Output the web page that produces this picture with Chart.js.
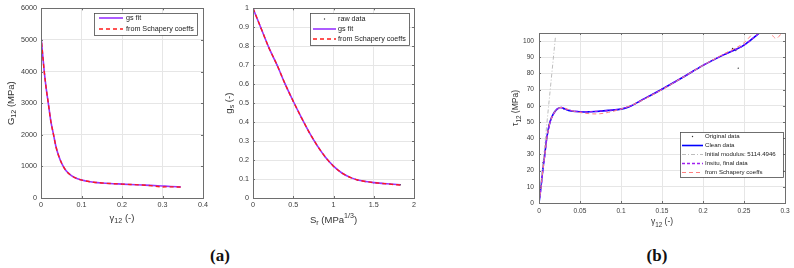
<!DOCTYPE html>
<html>
<head>
<meta charset="utf-8">
<script src="https://cdn.jsdelivr.net/npm/chart.js@4.4.0/dist/chart.umd.min.js"></script>
<style>
  body { margin: 0; background: #fff; width: 794px; height: 268px; position: relative; overflow: hidden; }
  canvas { position: absolute; top: 0; }
  .tag { position: absolute; top: 246px; width: 40px; margin-left: -20px; text-align: center;
         font-family: 'Liberation Serif', 'DejaVu Serif', serif; font-weight: bold; font-size: 17px; color: #111; }
</style>
</head>
<body>
<canvas id="c1" width="215" height="230" style="left:0px"></canvas>
<canvas id="c2" width="210" height="230" style="left:215px"></canvas>
<canvas id="c3" width="314" height="235" style="left:480px"></canvas>
<div class="tag" style="left:220px">(a)</div>
<div class="tag" style="left:657px">(b)</div>
<script>
// (a) left: shear modulus vs shear strain
var gammaG = [0, 0.004, 0.008, 0.013, 0.018, 0.024, 0.031, 0.037, 0.044, 0.052, 0.062, 0.075, 0.09, 0.11, 0.13, 0.15, 0.17, 0.2, 0.22, 0.25, 0.27, 0.3, 0.32, 0.345];
var G12Fit = [5130, 4550, 4000, 3450, 3000, 2450, 2000, 1620, 1320, 1070, 860, 710, 610, 540, 500, 475, 458, 440, 428, 410, 398, 378, 365, 352];
var G12Schapery = [5130, 4550, 4000, 3450, 3000, 2450, 2000, 1620, 1320, 1070, 860, 710, 610, 540, 500, 475, 458, 440, 428, 410, 392, 350, 352, 345];
var g1XTicks = [0, 0.1, 0.2, 0.3, 0.4];
var g1YTicks = [0, 1000, 2000, 3000, 4000, 5000, 6000];

// (a) right: nonlinear factor gs vs Sr
var SrVals = [0, 0.1, 0.2, 0.3, 0.4, 0.5, 0.6, 0.7, 0.8, 0.9, 1.0, 1.1, 1.2, 1.3, 1.4, 1.5, 1.6, 1.7, 1.83];
var gsRaw = [1, 0.895, 0.79, 0.7, 0.6, 0.51, 0.425, 0.345, 0.275, 0.215, 0.168, 0.133, 0.11, 0.095, 0.087, 0.081, 0.077, 0.074, 0.07];
var gsFit = [1, 0.895, 0.79, 0.7, 0.6, 0.51, 0.425, 0.345, 0.275, 0.215, 0.168, 0.133, 0.11, 0.095, 0.087, 0.081, 0.077, 0.074, 0.07];
var gsSchapery = [1, 0.895, 0.79, 0.7, 0.6, 0.51, 0.425, 0.345, 0.275, 0.215, 0.168, 0.133, 0.11, 0.095, 0.087, 0.081, 0.077, 0.073, 0.068];
var g2XTicks = [0, 0.5, 1, 1.5, 2];
var g2YTicks = [0, 0.1, 0.2, 0.3, 0.4, 0.5, 0.6, 0.7, 0.8, 0.9, 1];

// (b): shear stress vs shear strain
var gammaClean = [0, 0.0024, 0.0045, 0.007, 0.0094, 0.0134, 0.0175, 0.022, 0.027, 0.031, 0.036, 0.045, 0.055, 0.07, 0.085, 0.1, 0.11, 0.125, 0.15, 0.175, 0.2, 0.225, 0.25, 0.27];
var tauClean = [0, 10, 20, 30, 40, 50, 55, 58, 59, 58.2, 57.2, 56.5, 56.2, 56.5, 57.2, 58, 59.5, 63.5, 70.3, 77.5, 85, 91.5, 97.5, 105.5];
var gammaInsitu = [0, 0.0026, 0.0047, 0.0072, 0.0096, 0.0136, 0.0178, 0.0225, 0.027, 0.032, 0.04, 0.055, 0.07, 0.085, 0.1, 0.112, 0.125, 0.15, 0.175, 0.2, 0.225, 0.25, 0.27];
var tauInsitu = [0, 10, 20, 30, 40, 50, 55, 58, 59, 58, 57, 56.3, 56.6, 57.2, 58.2, 60, 63.5, 70.3, 77.5, 85, 91.5, 97.5, 105.5];
var gammaSchapery = [0, 0.0025, 0.0046, 0.0071, 0.0095, 0.0135, 0.0176, 0.022, 0.027, 0.032, 0.04, 0.055, 0.07, 0.085, 0.1, 0.12, 0.15, 0.175, 0.2, 0.225, 0.25, 0.262, 0.275, 0.289, 0.3];
var tauSchapery = [0, 10, 20, 30, 40, 50, 55, 58, 59, 58.5, 57, 55.5, 55, 56, 58, 62, 70, 77.5, 85, 92, 99, 105.2, 110, 101.7, 108];
var gammaOrig = [0.005, 0.012, 0.03, 0.06, 0.1, 0.15, 0.2, 0.236, 0.238, 0.24, 0.243];
var tauOrig = [25, 48, 58.2, 56.3, 58, 70.3, 85, 95.5, 95, 94.2, 83.3];
var initialModulus = '5114.4946';
var gammaModulus = [0, 0.02];
var tauModulus = [0, 102.3];
var g3XTicks = [0, 0.05, 0.1, 0.15, 0.2, 0.25, 0.3];
var g3YTicks = [0, 10, 20, 30, 40, 50, 60, 70, 80, 90, 100];

var FONT = "'Liberation Sans', Arial, sans-serif";
var gridColor = '#e6e6e6';
var axisColor = '#6e6e6e';
var tickColor = '#3a3a3a';

function pts(xs, ys) {
    return xs.map(function (x, i) { return { x: x, y: ys[i] }; });
}

function makeScales(o) {
    return {
        x: {
            type: 'linear', min: o.xMin, max: o.xMax,
            afterBuildTicks: function (s) { s.ticks = o.xTicks.map(function (v) { return { value: v }; }); },
            afterFit: function (s) { s.height = o.xH; },
            grid: { color: gridColor, drawTicks: false },
            border: { color: axisColor },
            ticks: { font: { family: FONT, size: o.fs }, color: tickColor, padding: o.xPad, maxRotation: 0, autoSkip: false,
                callback: function (v) { return String(v); } }
        },
        y: {
            type: 'linear', min: o.yMin, max: o.yMax,
            afterBuildTicks: function (s) { s.ticks = o.yTicks.map(function (v) { return { value: v }; }); },
            afterFit: function (s) { s.width = o.yW; },
            grid: { color: gridColor, drawTicks: false },
            border: { color: axisColor },
            ticks: { font: { family: FONT, size: o.fs }, color: tickColor, padding: o.yPad, autoSkip: false,
                callback: function (v) { return String(v); } }
        }
    };
}

// text with sub/superscripts: parts = [[text, 0 normal | 1 sub | 2 sup], ...]
function drawRich(ctx, parts, cx, cy, size, rotate) {
    ctx.save();
    ctx.translate(cx, cy);
    if (rotate) ctx.rotate(-Math.PI / 2);
    ctx.fillStyle = '#333';
    ctx.textBaseline = 'middle';
    ctx.textAlign = 'left';
    var total = 0;
    parts.forEach(function (p) {
        ctx.font = (p[1] ? size * 0.75 : size) + 'px ' + FONT;
        total += ctx.measureText(p[0]).width;
    });
    var x = -total / 2;
    parts.forEach(function (p) {
        ctx.font = (p[1] ? size * 0.75 : size) + 'px ' + FONT;
        var dy = p[1] === 1 ? size * 0.35 : (p[1] === 2 ? -size * 0.4 : 0);
        ctx.fillText(p[0], x, dy);
        x += ctx.measureText(p[0]).width;
    });
    ctx.restore();
}

function decoPlugin(cfg) {
    return {
        id: 'deco',
        afterDraw: function (chart) {
            var ctx = chart.ctx, a = chart.chartArea;
            ctx.save();
            // box + inward ticks
            ctx.strokeStyle = axisColor;
            ctx.lineWidth = 1;
            ctx.strokeRect(Math.round(a.left) + 0.5, Math.round(a.top) + 0.5, Math.round(a.right - a.left), Math.round(a.bottom - a.top));
            ctx.beginPath();
            chart.scales.x.ticks.forEach(function (t) {
                var px = Math.round(chart.scales.x.getPixelForValue(t.value)) + 0.5;
                ctx.moveTo(px, a.bottom); ctx.lineTo(px, a.bottom - 2);
                ctx.moveTo(px, a.top); ctx.lineTo(px, a.top + 2);
            });
            chart.scales.y.ticks.forEach(function (t) {
                var py = Math.round(chart.scales.y.getPixelForValue(t.value)) + 0.5;
                ctx.moveTo(a.left, py); ctx.lineTo(a.left + 2, py);
                ctx.moveTo(a.right, py); ctx.lineTo(a.right - 2, py);
            });
            ctx.stroke();

            // legend box
            var L = cfg.legend;
            ctx.fillStyle = '#fff';
            ctx.fillRect(L.x, L.y, L.w, L.h);
            ctx.strokeStyle = '#4d4d4d';
            ctx.lineWidth = 0.8;
            ctx.strokeRect(L.x + 0.5, L.y + 0.5, L.w, L.h);
            chart.data.datasets.forEach(function (ds, i) {
                var cy = L.y + L.first + i * L.row;
                var x0 = L.x + L.s0, x1 = x0 + L.sw;
                if (ds.showLine === false) {
                    ctx.fillStyle = '#333';
                    ctx.beginPath();
                    ctx.arc((x0 + x1) / 2, cy, 0.7, 0, Math.PI * 2);
                    ctx.fill();
                } else {
                    ctx.strokeStyle = ds.borderColor;
                    ctx.lineWidth = ds.borderWidth;
                    ctx.setLineDash(ds.borderDash || []);
                    ctx.beginPath();
                    ctx.moveTo(x0, cy); ctx.lineTo(x1, cy);
                    ctx.stroke();
                    ctx.setLineDash([]);
                }
                ctx.fillStyle = '#222';
                ctx.font = L.size + 'px ' + FONT;
                ctx.textBaseline = 'middle';
                ctx.textAlign = 'left';
                ctx.fillText(ds.label, L.x + L.tx, cy);
            });
            ctx.restore();

            // axis titles
            drawRich(ctx, cfg.xTitle, (a.left + a.right) / 2, cfg.xTitleY, cfg.titleSize, false);
            drawRich(ctx, cfg.yTitle, cfg.yTitleX, (a.top + a.bottom) / 2 + (cfg.yTitleDy || 0), cfg.titleSize, true);
        }
    };
}

function lineSet(label, xs, ys, color, width, dash, order) {
    return { label: label, data: pts(xs, ys), borderColor: color, borderWidth: width, borderDash: dash,
        pointRadius: 0, tension: 0, cubicInterpolationMode: 'monotone', fill: false, order: order };
}

function dotSet(label, xs, ys, order) {
    return { label: label, data: pts(xs, ys), showLine: false, pointRadius: 0.7, pointBorderWidth: 0,
        pointBackgroundColor: '#333', borderColor: '#333', borderWidth: 0, order: order };
}

var common = { responsive: false, animation: false, parsing: true,
    plugins: { legend: { display: false }, tooltip: { enabled: false } } };

new Chart(document.getElementById('c1'), {
    type: 'line',
    data: { datasets: [
        lineSet('gs fit', gammaG, G12Fit, '#9933ff', 1.6, [], 1),
        lineSet('from Schapery coeffs', gammaG, G12Schapery, '#ff1a1a', 1.4, [4, 3], 0)
    ] },
    options: Object.assign({}, common, {
        layout: { padding: { left: 0, top: 7, right: 12, bottom: 0 } },
        scales: makeScales({ xMin: 0, xMax: 0.4, xTicks: g1XTicks, yMin: 0, yMax: 6000, yTicks: g1YTicks,
            xH: 32, yW: 41, fs: 7.2, xPad: 3, yPad: 4 })
    }),
    plugins: [decoPlugin({
        legend: { x: 94, y: 13, w: 103, h: 22, first: 5, row: 11, s0: 5, sw: 24, tx: 32, size: 7.2 },
        xTitle: [['γ', 0], ['12', 1], [' (-)', 0]], xTitleY: 218,
        yTitle: [['G', 0], ['12', 1], [' (MPa)', 0]], yTitleX: 11,
        titleSize: 9.5
    })]
});

new Chart(document.getElementById('c2'), {
    type: 'line',
    data: { datasets: [
        dotSet('raw data', SrVals, gsRaw, 2),
        lineSet('gs fit', SrVals, gsFit, '#9933ff', 1.6, [], 1),
        lineSet('from Schapery coeffs', SrVals, gsSchapery, '#ff1a1a', 1.4, [4, 3], 0)
    ] },
    options: Object.assign({}, common, {
        layout: { padding: { left: 0, top: 6, right: 11, bottom: 0 } },
        scales: makeScales({ xMin: 0, xMax: 2, xTicks: g2XTicks, yMin: 0, yMax: 1, yTicks: g2YTicks,
            xH: 32, yW: 38, fs: 7.2, xPad: 3, yPad: 4 })
    }),
    plugins: [decoPlugin({
        legend: { x: 95, y: 13, w: 99, h: 32, first: 6, row: 10, s0: 3, sw: 23, tx: 28, size: 7.2 },
        xTitle: [['S', 0], ['r', 1], [' (MPa', 0], ['1/3', 2], [')', 0]], xTitleY: 220,
        yTitle: [['g', 0], ['s', 1], [' (-)', 0]], yTitleX: 14,
        titleSize: 9.5
    })]
});

new Chart(document.getElementById('c3'), {
    type: 'line',
    data: { datasets: [
        dotSet('Original data', gammaOrig, tauOrig, 4),
        lineSet('Clean data', gammaClean, tauClean, '#0000ff', 1.6, [], 3),
        lineSet('Initial modulus: ' + initialModulus, gammaModulus, tauModulus, '#bdbdbd', 1, [4, 2, 1, 2], 2),
        lineSet('Insitu, final data', gammaInsitu, tauInsitu, '#a020f0', 1.3, [3, 2], 1),
        lineSet('from Schapery coeffs', gammaSchapery, tauSchapery, '#ff8080', 1, [4, 3], 0)
    ] },
    options: Object.assign({}, common, {
        layout: { padding: { left: 0, top: 33, right: 9, bottom: 0 } },
        scales: makeScales({ xMin: 0, xMax: 0.3, xTicks: g3XTicks, yMin: 0, yMax: 105, yTicks: g3YTicks,
            xH: 32, yW: 59, fs: 6.6, xPad: 4, yPad: 5 })
    }),
    plugins: [decoPlugin({
        legend: { x: 200, y: 132, w: 103, h: 45, first: 4.5, row: 9, s0: 2, sw: 21, tx: 25, size: 6.1 },
        xTitle: [['γ', 0], ['12', 1], [' (-)', 0]], xTitleY: 222,
        yTitle: [['τ', 0], ['12', 1], [' (MPa)', 0]], yTitleX: 36, yTitleDy: -10,
        titleSize: 8.5
    })]
});
</script>
</body>
</html>
